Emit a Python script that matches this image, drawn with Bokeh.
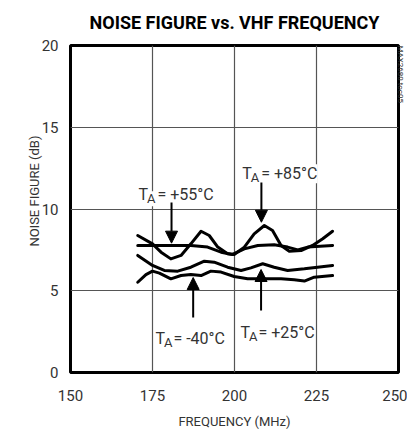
from bokeh.plotting import figure
from bokeh.models import Range1d, Label, Arrow, NormalHead, FixedTicker, Title
from bokeh.embed import file_html
from bokeh.resources import INLINE

# ---- data ----
freq_85 = [170.5, 175.0, 177.6, 180.6, 183.7, 186.7, 189.8, 192.3, 194.9, 197.9, 199.9,
           203.0, 206.0, 209.1, 211.6, 214.2, 216.7, 220.3, 223.8, 226.9, 229.9]
nf_85 = [8.38, 7.87, 7.36, 6.95, 7.16, 7.87, 8.64, 8.38, 7.67, 7.26, 7.22,
         7.67, 8.48, 8.99, 8.69, 7.77, 7.42, 7.46, 7.77, 8.18, 8.64]

freq_55 = [170.5, 178.6, 186.7, 191.8, 195.9, 199.4, 203.0, 207.1, 212.1, 216.2, 219.3, 222.3, 229.9]
nf_55 = [7.77, 7.77, 7.77, 7.67, 7.36, 7.22, 7.56, 7.77, 7.81, 7.67, 7.50, 7.67, 7.77]

freq_25 = [170.5, 175.0, 178.6, 182.7, 186.7, 190.8, 193.8, 197.9, 202.0, 205.0, 208.6,
           212.1, 216.2, 221.3, 225.3, 229.9]
nf_25 = [7.16, 6.55, 6.24, 6.20, 6.44, 6.81, 6.75, 6.44, 6.24, 6.40, 6.65,
         6.44, 6.24, 6.34, 6.44, 6.55]

freq_m40 = [170.5, 173.0, 175.0, 177.1, 180.6, 183.7, 186.7, 189.8, 192.8, 195.9, 199.9,
            204.0, 209.1, 214.2, 218.2, 221.3, 224.3, 229.9]
nf_m40 = [5.52, 5.99, 6.20, 6.08, 5.73, 5.93, 5.99, 5.93, 6.20, 6.14, 5.87,
          5.73, 5.73, 5.73, 5.67, 5.59, 5.83, 5.93]

x_ticks = [150, 175, 200, 225, 250]
y_ticks = [0, 5, 10, 15, 20]

title_text = "NOISE FIGURE vs. VHF FREQUENCY"
x_label = "FREQUENCY (MHz)"
y_label = "NOISE FIGURE (dB)"
tag_text = "MAX2680 toc05"
temp_labels = ["= +85°C", "= +55°C", "= +25°C", "= -40°C"]

FONT = "Roboto"
GREY = "#333333"

p = figure(width=407, height=433, output_backend="svg", toolbar_location=None,
           x_range=Range1d(150, 250), y_range=Range1d(0, 20),
           min_border_left=70, min_border_right=9, min_border_top=45, min_border_bottom=61)
p.outline_line_color = "black"
p.outline_line_width = 3
p.background_fill_color = "white"
p.border_fill_color = "white"

p.title.text = title_text
p.title.align = "center"
p.title.vertical_align = "top"
p.title.text_font = FONT
p.title.text_font_style = "bold"
p.title.text_font_size = "18px"
p.title.text_color = "black"
p.title.standoff = 21

p.add_layout(Title(text=tag_text, align="left", text_font=FONT, text_font_size="8px",
                   text_font_style="normal", text_color=GREY, standoff=-5), "right")

for ax in (p.xaxis, p.yaxis):
    ax.axis_line_color = None
    ax.major_tick_line_color = None
    ax.minor_tick_line_color = None
    ax.major_tick_out = 0
    ax.major_tick_in = 0
    ax.minor_tick_out = 0
    ax.major_label_text_font = FONT
    ax.major_label_text_font_size = "15px"
    ax.major_label_text_color = GREY
p.xaxis.ticker = FixedTicker(ticks=x_ticks)
p.yaxis.ticker = FixedTicker(ticks=y_ticks)
p.xaxis.major_label_standoff = 17
p.yaxis.major_label_standoff = 12
p.xaxis.axis_label = x_label
p.xaxis.axis_label_text_font = FONT
p.xaxis.axis_label_text_font_size = "13px"
p.xaxis.axis_label_text_font_style = "normal"
p.xaxis.axis_label_text_color = GREY
p.xaxis.axis_label_standoff = 10

# y-axis title as a side title so it can sit slightly above centre, as in the reference
p.add_layout(Title(text=y_label, align="right", offset=90, text_font=FONT,
                   text_font_size="13px", text_font_style="normal", text_color=GREY,
                   standoff=-6), "left")

p.xgrid.ticker = FixedTicker(ticks=x_ticks)
p.ygrid.ticker = FixedTicker(ticks=y_ticks)
p.grid.grid_line_color = "#555555"
p.grid.grid_line_width = 1.2

for fx, fy in ((freq_85, nf_85), (freq_55, nf_55), (freq_25, nf_25), (freq_m40, nf_m40)):
    p.line(fx, fy, line_color="black", line_width=3, line_join="round", line_cap="round")

# Temperature annotations: (x_left, baseline y, text offset px)
ann_pos = [(202.35, 12.15, 19), (170.73, 10.87, 19), (201.8, 2.46, 18), (175.9, 2.06, 18)]
for (ax_, ay_, off), txt in zip(ann_pos, temp_labels):
    p.add_layout(Label(x=ax_, y=ay_, text="T", text_font=FONT, text_font_size="16px",
                       text_baseline="alphabetic", text_color=GREY,
                       background_fill_color="white"))
    p.add_layout(Label(x=ax_, y=ay_, x_offset=8.5, y_offset=-4, text="A", text_font=FONT,
                       text_font_size="13px", text_baseline="alphabetic", text_color=GREY,
                       background_fill_color="white"))
    p.add_layout(Label(x=ax_, y=ay_, x_offset=off, text=txt, text_font=FONT,
                       text_font_size="16px", text_baseline="alphabetic", text_color=GREY,
                       background_fill_color="white"))

arrows = [(208.2, 11.62, 9.19), (180.8, 10.4, 7.91), (208.1, 3.79, 6.30), (187.4, 3.36, 5.81)]
for ax_, y0, y1 in arrows:
    p.add_layout(Arrow(x_start=ax_, y_start=y0, x_end=ax_, y_end=y1, line_width=2,
                       line_color="black",
                       end=NormalHead(size=12, fill_color="black", line_color="black")))

open("out.html", "w").write(file_html(p, INLINE))
